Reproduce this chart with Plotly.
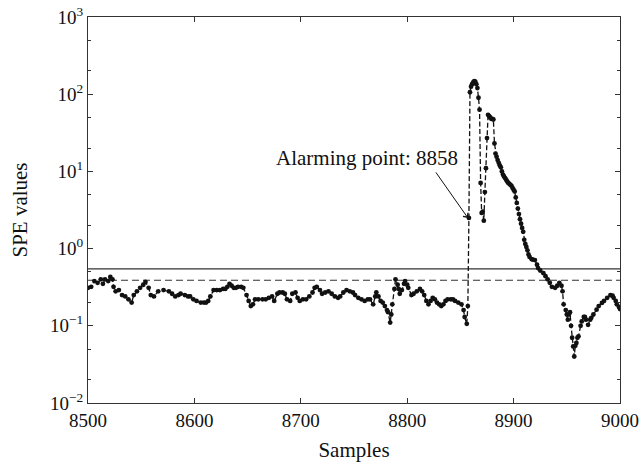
import math
import plotly.graph_objects as go

samples = [8500, 8503, 8506, 8509, 8512, 8514, 8516, 8519, 8521, 8523, 8524, 8526, 8529, 8532, 8535, 8538, 8541, 8543, 8546, 8549,
           8552, 8554, 8557, 8559, 8562, 8566, 8571, 8576, 8579, 8582, 8585, 8587, 8591, 8594, 8596, 8599, 8602, 8606, 8609, 8611,
           8613, 8615, 8618, 8621, 8624, 8627, 8629, 8631, 8633, 8635, 8637, 8639, 8641, 8644, 8646, 8649, 8651, 8653, 8655, 8657,
           8660, 8664, 8667, 8670, 8673, 8675, 8678, 8680, 8683, 8685, 8687, 8690, 8692, 8695, 8697, 8699, 8702, 8705, 8708, 8711,
           8713, 8715, 8718, 8720, 8723, 8726, 8729, 8732, 8735, 8737, 8740, 8743, 8746, 8749, 8751, 8754, 8757, 8760, 8763, 8765,
           8768, 8770, 8771, 8773, 8775, 8777, 8779, 8781, 8782, 8784, 8785, 8786, 8788, 8789, 8791, 8792, 8793, 8795, 8797, 8798,
           8800, 8801, 8804, 8806, 8809, 8812, 8814, 8816, 8818, 8820, 8822, 8824, 8826, 8828, 8830, 8832, 8834, 8836, 8838, 8841,
           8843, 8845, 8848, 8851, 8853, 8854, 8856, 8857, 8858, 8859, 8860, 8861, 8862, 8863, 8864, 8865, 8866, 8867, 8868, 8869,
           8870, 8871, 8872, 8873, 8874, 8875, 8876, 8877, 8878, 8879, 8880, 8881, 8882, 8883, 8884, 8885, 8886, 8887, 8888, 8889,
           8890, 8891, 8892, 8893, 8894, 8895, 8896, 8897, 8898, 8899, 8900, 8901, 8902, 8903, 8904, 8905, 8906, 8907, 8908, 8909,
           8910, 8911, 8912, 8913, 8914, 8915, 8917, 8918, 8920, 8922, 8923, 8925, 8928, 8930, 8932, 8934, 8936, 8939, 8941, 8943,
           8945, 8946, 8947, 8949, 8950, 8951, 8952, 8953, 8954, 8955, 8956, 8957, 8958, 8959, 8960, 8961, 8963, 8964, 8966, 8967,
           8968, 8970, 8972, 8973, 8975, 8978, 8980, 8983, 8985, 8988, 8991, 8993, 8994, 8996, 8997, 8999, 9000]

spe = [0.31, 0.32, 0.38, 0.36, 0.40, 0.35, 0.40, 0.38, 0.43, 0.40, 0.32, 0.28, 0.29, 0.25, 0.24, 0.22, 0.20, 0.25, 0.28, 0.31,
       0.34, 0.37, 0.31, 0.25, 0.24, 0.28, 0.29, 0.28, 0.26, 0.24, 0.25, 0.26, 0.25, 0.24, 0.24, 0.22, 0.21, 0.20, 0.20, 0.20,
       0.21, 0.24, 0.29, 0.29, 0.29, 0.30, 0.30, 0.32, 0.35, 0.33, 0.31, 0.31, 0.32, 0.32, 0.31, 0.25, 0.21, 0.18, 0.19, 0.22,
       0.22, 0.22, 0.22, 0.23, 0.24, 0.21, 0.26, 0.27, 0.27, 0.26, 0.22, 0.21, 0.26, 0.27, 0.23, 0.21, 0.22, 0.22, 0.24, 0.27,
       0.31, 0.32, 0.29, 0.26, 0.27, 0.28, 0.26, 0.24, 0.23, 0.24, 0.27, 0.29, 0.28, 0.27, 0.25, 0.23, 0.22, 0.21, 0.22, 0.22,
       0.19, 0.24, 0.27, 0.24, 0.21, 0.20, 0.18, 0.16, 0.15, 0.11, 0.14, 0.19, 0.30, 0.40, 0.34, 0.30, 0.26, 0.29, 0.35, 0.38,
       0.34, 0.31, 0.25, 0.26, 0.28, 0.30, 0.28, 0.25, 0.21, 0.19, 0.21, 0.23, 0.22, 0.20, 0.19, 0.18, 0.19, 0.21, 0.22, 0.22,
       0.22, 0.21, 0.20, 0.19, 0.16, 0.13, 0.106, 0.18, 2.5, 106, 125, 135, 142, 148, 145, 135, 120, 90, 63, 7.1,
       2.9, 3.0, 2.3, 5.4, 11, 27, 54, 52, 50, 48, 48, 47, 23, 17, 15.5, 14, 12.9, 12, 11.3, 10,
       9.1, 8.6, 8.2, 7.8, 7.4, 7.1, 6.9, 6.7, 6.5, 6.1, 5.8, 5.5, 4.6, 3.9, 3.3, 2.8, 2.4, 2.1, 1.85, 1.65,
       1.3, 1.15, 1.05, 0.95, 0.84, 0.78, 0.73, 0.72, 0.71, 0.62, 0.56, 0.52, 0.48, 0.44, 0.40, 0.36, 0.32, 0.31, 0.33, 0.36,
       0.33, 0.28, 0.19, 0.16, 0.14, 0.12, 0.14, 0.15, 0.10, 0.07, 0.054, 0.04, 0.055, 0.06, 0.07, 0.073, 0.10, 0.114, 0.13, 0.13,
       0.12, 0.103, 0.12, 0.127, 0.14, 0.162, 0.18, 0.198, 0.21, 0.23, 0.25, 0.245, 0.23, 0.21, 0.19, 0.175, 0.165]

limit_solid = 0.546
limit_dashed = 0.389
x_range = [8500, 9000]
x_ticks = [8500, 8600, 8700, 8800, 8900, 9000]
y_tickvals = [0.01, 0.1, 1, 10, 100, 1000]
y_ticktext = ["10<sup>−2</sup>", "10<sup>−1</sup>", "10<sup>0</sup>", "10<sup>1</sup>", "10<sup>2</sup>", "10<sup>3</sup>"]
alarm_sample = 8857
alarm_value = 2.5
label_sample = 8849.5
label_value = 15.1

FONT = "Liberation Serif"
INK = "#111111"
FRAME = "#333333"

fig = go.Figure()
fig.add_trace(go.Scatter(x=x_range, y=[limit_solid, limit_solid], mode="lines",
                         line=dict(color=FRAME, width=1.2), showlegend=False))
fig.add_trace(go.Scatter(x=x_range, y=[limit_dashed, limit_dashed], mode="lines",
                         line=dict(color=FRAME, width=1.2, dash="7px,4px"), showlegend=False))
fig.add_trace(go.Scatter(x=samples, y=spe, mode="lines+markers",
                         line=dict(color=INK, width=1.3, dash="5px,2.5px"),
                         marker=dict(color=INK, size=4.8), showlegend=False))

fig.add_annotation(x=alarm_sample, y=math.log10(alarm_value), xref="x", yref="y",
                   text="", showarrow=True, arrowhead=4, arrowsize=1.2, arrowwidth=1,
                   arrowcolor=INK, ax=-33, ay=-47, standoff=0)
fig.add_annotation(x=label_sample, y=math.log10(label_value), xref="x", yref="y",
                   text="Alarming point: 8858", showarrow=False, xanchor="right", yanchor="middle",
                   font=dict(family=FONT, size=21, color=INK))

axis_common = dict(showline=True, linecolor=FRAME, linewidth=1.2, mirror="ticks",
                   ticks="inside", tickcolor=FRAME, ticklen=5, showgrid=False, zeroline=False,
                   automargin=False, ticklabeloverflow="allow",
                   tickfont=dict(family=FONT, size=19, color=INK))

fig.update_xaxes(range=x_range, tickvals=x_ticks,
                 title=dict(text="Samples", font=dict(family=FONT, size=21, color=INK), standoff=12),
                 **axis_common)
fig.update_yaxes(type="log", range=[-2, 3], tickvals=y_tickvals, ticktext=y_ticktext,
                 title=dict(text="SPE values", font=dict(family=FONT, size=21, color=INK), standoff=16),
                 minor=dict(ticks="inside", ticklen=3, tickcolor=FRAME, showgrid=False),
                 **axis_common)

fig.update_layout(width=643, height=467, margin=dict(l=88, r=23, t=17, b=64),
                  plot_bgcolor="white", paper_bgcolor="white")

# remove the page's default body margin so the figure fills the window exactly
fig.write_html("out.html", config={"displayModeBar": False},
               post_script="document.body.style.margin='0';document.body.style.overflow='hidden';")
